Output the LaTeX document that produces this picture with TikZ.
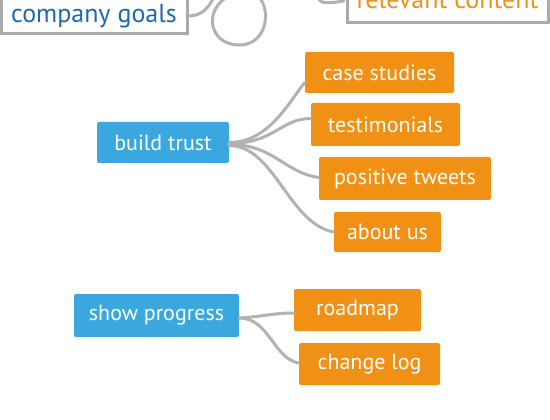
\documentclass[tikz,border=0pt]{standalone}
\usepackage{fontspec}
\setmainfont{PT Sans}
\setsansfont{PT Sans}
\usetikzlibrary{calc}
\definecolor{tblue}{RGB}{58,168,222}
\definecolor{torange}{RGB}{240,144,20}
\definecolor{lgray}{RGB}{178,178,178}
\definecolor{bgray}{RGB}{170,170,170}
\definecolor{dblue}{RGB}{30,104,176}
\begin{document}
\begin{tikzpicture}[x=1pt,y=-1pt,
  bluebox/.style={fill=tblue, text=white, rounded corners=2pt, inner sep=0pt,
    font=\fontsize{22}{26}\selectfont},
  orangebox/.style={fill=torange, text=white, rounded corners=2pt, inner sep=0pt,
    font=\fontsize{22}{26}\selectfont},
  topbox/.style={draw=bgray, line width=3pt, fill=white, inner sep=0pt,
    font=\fontsize{26}{30}\selectfont},
  link/.style={draw=lgray, line width=3pt, line cap=round}]
\useasboundingbox (0,0) rectangle (550,420);
\clip (0,0) rectangle (550,420);
\fill[white] (0,0) rectangle (550,420);

% top fragments
\coordinate (t1) at (214,-3);
\coordinate (l1) at (227,-3);
\coordinate (l2) at (259,-3);
\coordinate (r1) at (318,-3);

\draw[link] (l1) .. controls (203,12) and (210,44) .. (238,45)
  .. controls (266,46) and (272,12) .. (l2);

\node[topbox, text=dblue, minimum width=186pt, minimum height=36pt] (cg) at (94,16) {company goals};
\node[topbox, text=torange, minimum width=201pt, minimum height=46pt] (rc) at (447.5,0) {relevant content};

\draw[link] (cg.east) .. controls +(14,0) and +(-5,10) .. (t1);
\draw[link] (r1) .. controls (320,5) and (330,3) .. ($(rc.west)+(-1.5,1)$);

% build trust group
\node[bluebox, minimum width=132pt, minimum height=41pt] (bt) at (163,142.5) {build trust};
\node[orangebox, minimum width=149pt, minimum height=41pt] (cs) at (379.5,72.5) {case studies};
\node[orangebox, minimum width=149pt, minimum height=43pt] (te) at (385.5,124.5) {testimonials};
\node[orangebox, minimum width=172pt, minimum height=43pt] (pt) at (405,178.5) {positive tweets};
\node[orangebox, minimum width=107pt, minimum height=40pt] (au) at (387.5,232) {about us};

\draw[link] ($(bt.east)+(0,0)$) .. controls +(40,0) and +(-15,18) .. ($(cs.west)+(0,10)$);
\draw[link] ($(bt.east)+(0,1)$) .. controls +(45,0) and +(-30,0) .. ($(te.west)+(0,-6)$);
\draw[link] ($(bt.east)+(0,2)$) .. controls +(45,0) and +(-35,-5) .. ($(pt.west)+(0,-1)$);
\draw[link] ($(bt.east)+(0,3)$) .. controls +(45,0) and +(-45,-8) .. ($(au.west)+(0,0)$);

% show progress group
\node[bluebox, minimum width=165pt, minimum height=43pt] (sp) at (156.5,315.5) {show progress};
\node[orangebox, minimum width=127pt, minimum height=42pt] (rm) at (357.5,310) {roadmap};
\node[orangebox, minimum width=141pt, minimum height=42pt] (cl) at (369.5,364) {change log};

\draw[link] ($(sp.east)+(0,2.5)$) .. controls +(20,-1) and +(-20,0) .. ($(rm.west)+(0,3)$);
\draw[link] ($(sp.east)+(0,2.5)$) .. controls +(30,0) and +(-25,-4) .. ($(cl.west)+(0,-1)$);
\end{tikzpicture}
\end{document}
